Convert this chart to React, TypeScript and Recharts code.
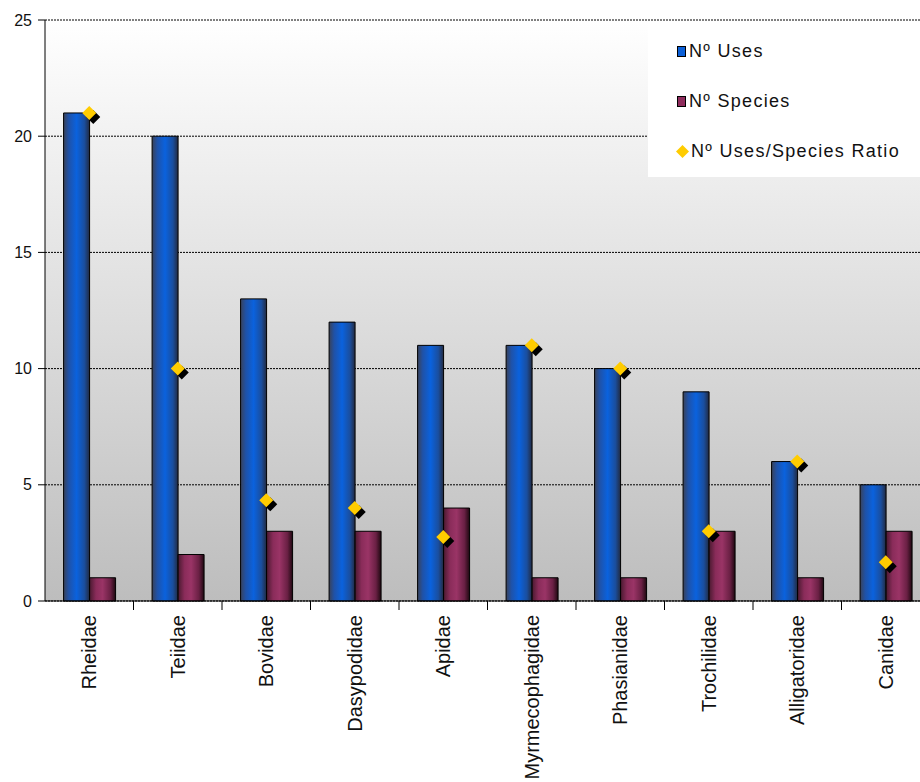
import React from 'react';
import { ComposedChart, Bar, Line, XAxis, YAxis, CartesianGrid } from 'recharts';

const families = ['Rheidae', 'Teiidae', 'Bovidae', 'Dasypodidae', 'Apidae', 'Myrmecophagidae', 'Phasianidae', 'Trochilidae', 'Alligatoridae', 'Canidae'];
const uses = [21, 20, 13, 12, 11, 11, 10, 9, 6, 5];
const species = [1, 2, 3, 3, 4, 1, 1, 3, 1, 3];
const ratio = [21, 10, 4.33, 4, 2.75, 11, 10, 3, 6, 1.67];
const yTicks = [0, 5, 10, 15, 20, 25];

const data = families.map((name, i) => ({ name, uses: uses[i], species: species[i], ratio: ratio[i] }));

const FONT = '"Liberation Sans", Arial, sans-serif';
const CHART_W = 930;
const Y_AXIS_W = 45;
const HALF_BAND = (CHART_W - Y_AXIS_W) / families.length / 2;

const Diamond = (props: any) => {
  const { cx, cy, index } = props;
  if (cx == null || cy == null) return null;
  const r = 7;
  const pts = (x: number, y: number) => `${x},${y - r} ${x + r},${y} ${x},${y + r} ${x - r},${y}`;
  return (
    <g key={`d-${index}`}>
      <polygon points={pts(cx + 4, cy + 4)} fill="#000" />
      <polygon points={pts(cx, cy)} fill="#ffcc00" />
    </g>
  );
};

const FamilyTick = (props: any) => {
  const { x, y, payload } = props;
  const ty = y + 14;
  return (
    <g>
      <line x1={x + HALF_BAND} y1={y} x2={x + HALF_BAND} y2={y + 9} stroke="#000" />
      <text
        x={x}
        y={ty}
        dy={7}
        transform={`rotate(-90, ${x}, ${ty})`}
        textAnchor="end"
        fontSize={20}
        fontFamily={FONT}
        fill="#111"
      >
        {payload.value}
      </text>
    </g>
  );
};

const legendItems = [
  { label: 'Nº Uses', kind: 'square', fill: '#0b5fd6' },
  { label: 'Nº Species', kind: 'square', fill: '#8e2c5c' },
  { label: 'Nº Uses/Species Ratio', kind: 'diamond', fill: '#ffcc00' },
];

const LegendBox = () => (
  <div style={{ position: 'absolute', top: 22, left: 648, background: '#fff', width: 290, height: 155, boxSizing: 'border-box', paddingTop: 4 }}>
    {legendItems.map((it) => (
      <div key={it.label} style={{ display: 'flex', alignItems: 'center', height: 50, paddingLeft: it.kind === 'square' ? 29 : 28, fontFamily: FONT, fontSize: 18, letterSpacing: 1.3, color: '#111' }}>
        {it.kind === 'square' ? (
          <span style={{ display: 'inline-block', width: 7, height: 9, background: it.fill, border: '1px solid #000', marginRight: 3 }} />
        ) : (
          <svg width={13} height={13} style={{ marginRight: 2 }}>
            <polygon points="6.5,0 13,6.5 6.5,13 0,6.5" fill={it.fill} />
          </svg>
        )}
        <span>{it.label}</span>
      </div>
    ))}
  </div>
);

export default function App() {
  return (
    <div style={{ position: 'absolute', left: 0, top: 0, width: 920, height: 782, overflow: 'hidden', background: '#fff' }}>
      <ComposedChart
        width={CHART_W}
        height={782}
        data={data}
        margin={{ top: 20, right: 0, bottom: 0, left: 0 }}
        barCategoryGap="21%"
        barGap={0}
      >
        <defs>
          <linearGradient id="bgGrad" x1="0" y1="0" x2="0" y2="1">
            <stop offset="0%" stopColor="#ffffff" />
            <stop offset="100%" stopColor="#bdbdbd" />
          </linearGradient>
          <linearGradient id="blueGrad" x1="0" y1="0" x2="1" y2="0">
            <stop offset="0%" stopColor="#3a4258" />
            <stop offset="20%" stopColor="#1f52a8" />
            <stop offset="50%" stopColor="#0a62de" />
            <stop offset="80%" stopColor="#1a4e9e" />
            <stop offset="100%" stopColor="#222a40" />
          </linearGradient>
          <linearGradient id="purpleGrad" x1="0" y1="0" x2="1" y2="0">
            <stop offset="0%" stopColor="#4a1a30" />
            <stop offset="25%" stopColor="#8a2c5a" />
            <stop offset="50%" stopColor="#9a3466" />
            <stop offset="80%" stopColor="#6a2044" />
            <stop offset="100%" stopColor="#1e0810" />
          </linearGradient>
        </defs>
        <CartesianGrid vertical={false} stroke="#000" strokeDasharray="2 1" fill="url(#bgGrad)" fillOpacity={1} />
        <XAxis
          dataKey="name"
          interval={0}
          height={181}
          axisLine={{ stroke: '#000' }}
          tickLine={false}
          tickSize={0}
          tickMargin={0}
          tick={<FamilyTick />}
        />
        <YAxis
          width={Y_AXIS_W}
          domain={[0, 25]}
          ticks={yTicks}
          interval={0}
          axisLine={{ stroke: '#000' }}
          tickLine={{ stroke: '#000' }}
          tickSize={7}
          tickMargin={6}
          tick={{ fontSize: 16, fontFamily: FONT, fill: '#111' }}
        />
        <Bar dataKey="uses" name="Nº Uses" fill="url(#blueGrad)" stroke="#000" strokeWidth={1} isAnimationActive={false} />
        <Bar dataKey="species" name="Nº Species" fill="url(#purpleGrad)" stroke="#000" strokeWidth={1} isAnimationActive={false} />
        <Line
          dataKey="ratio"
          name="Nº Uses/Species Ratio"
          stroke="none"
          dot={<Diamond />}
          activeDot={false}
          isAnimationActive={false}
        />
      </ComposedChart>
      <LegendBox />
    </div>
  );
}
